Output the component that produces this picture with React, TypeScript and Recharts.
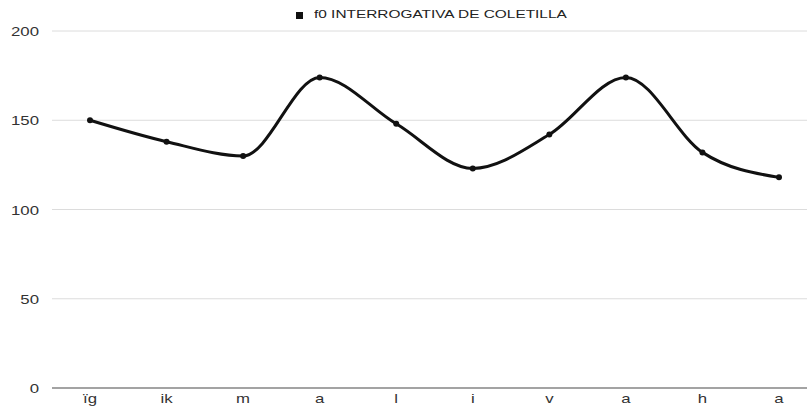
import React from "react";
import { LineChart, Line, XAxis, YAxis, CartesianGrid, Legend } from "recharts";

const categories = ["ïg", "ik", "m", "a", "l", "i", "v", "a", "h", "a"];
const f0Values = [150, 138, 130, 174, 148, 123, 142, 174, 132, 118];
const yTicks = [0, 50, 100, 150, 200];
const seriesName = "f0 INTERROGATIVA DE COLETILLA";

const data = categories.map((c, i) => ({ idx: i, cat: c, f0: f0Values[i] }));

const FONT = "'Liberation Sans', Arial, Helvetica, sans-serif";
const STRETCH = 1.4;

const XTick = (props: any) => {
  const { x, y, payload } = props;
  return (
    <text
      transform={`translate(${x},${y + 7}) scale(${STRETCH},1)`}
      textAnchor="middle"
      fontSize={12}
      fill="#333"
      fontFamily={FONT}
    >
      {categories[payload.value]}
    </text>
  );
};

const YTick = (props: any) => {
  const { x, y, payload } = props;
  return (
    <text
      transform={`translate(${x - 5},${y + 5}) scale(${STRETCH},1)`}
      textAnchor="end"
      fontSize={12}
      fill="#333"
      fontFamily={FONT}
    >
      {payload.value}
    </text>
  );
};

export default function App() {
  return (
    <div style={{ position: "absolute", left: 0, top: 0, width: 807, height: 407, overflow: "hidden", background: "#fff" }}>
      <LineChart
        width={817}
        height={407}
        data={data}
        margin={{ top: 7, right: 0, bottom: 0, left: 0 }}
        style={{ fontFamily: FONT }}
      >
        <CartesianGrid vertical={false} stroke="#dcdcdc" strokeWidth={1} />
        <Legend
          verticalAlign="top"
          align="left"
          height={24}
          iconType="square"
          iconSize={7}
          wrapperStyle={{ left: 296, width: 400, fontSize: 11, color: "#222", lineHeight: "14px" }}
          formatter={(v) => (
            <span
              style={{
                color: "#222",
                marginLeft: 7,
                display: "inline-block",
                transform: `scaleX(${STRETCH})`,
                transformOrigin: "left center",
              }}
            >
              {v}
            </span>
          )}
        />
        <XAxis
          dataKey="idx"
          type="category"
          height={19}
          tickLine={false}
          axisLine={{ stroke: "#8a8a8a", strokeWidth: 1.5 }}
          tick={<XTick />}
          padding={{ left: 38, right: 38 }}
          interval={0}
        />
        <YAxis
          domain={[0, 200]}
          ticks={yTicks}
          width={52}
          tickLine={false}
          axisLine={false}
          tick={<YTick />}
        />
        <Line
          type="monotone"
          dataKey="f0"
          name={seriesName}
          stroke="#111"
          strokeWidth={3}
          dot={{ r: 3, fill: "#111", stroke: "#111", strokeWidth: 0 }}
          legendType="square"
          isAnimationActive={false}
        />
      </LineChart>
    </div>
  );
}
